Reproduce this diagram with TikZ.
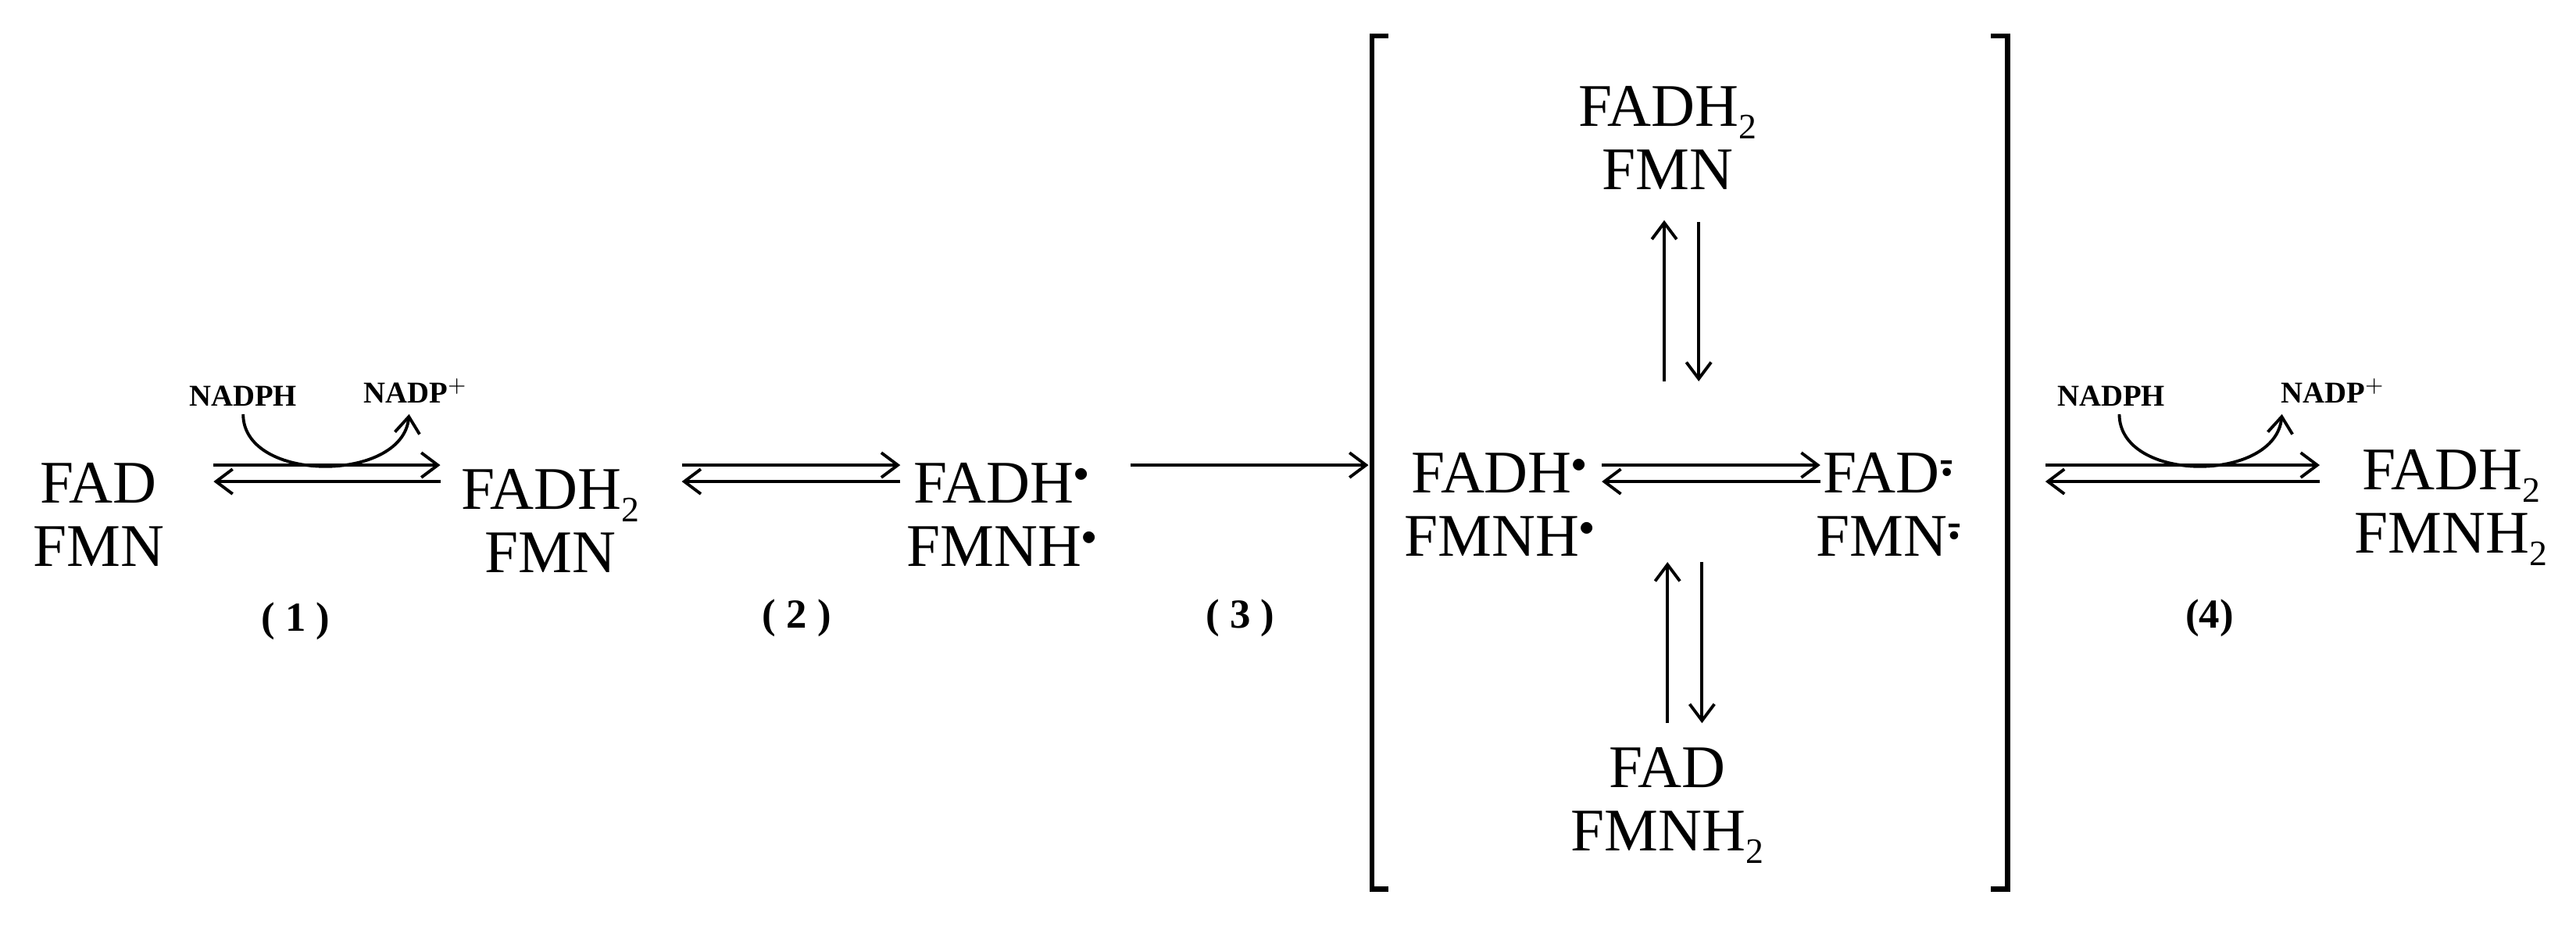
\documentclass[tikz,border=0pt]{standalone}
\usepackage{fontspec}
\setmainfont{Liberation Serif}
\usetikzlibrary{arrows.meta}
\begin{document}
\begin{tikzpicture}[x=0.021cm,y=-0.021cm,
  chem/.style={font=\fontsize{22}{23}\selectfont,align=center,inner sep=0pt},
  cof/.style={font=\fontsize{11}{13}\selectfont\bfseries,inner sep=0pt},
  num/.style={font=\fontsize{15}{18}\selectfont\bfseries,inner sep=0pt},
  rx/.style={line width=1.1pt,-{Straight Barb[length=6pt,width=9pt,line width=1.1pt]}},
  br/.style={line width=1.8pt}]
\useasboundingbox (0,0) rectangle (1568,564);
\newcommand{\rad}{$^{\scriptscriptstyle\bullet}$}
\newcommand{\anion}{\textsuperscript{\shortstack{\fontsize{7}{7}\selectfont$\bullet$\\[-1.3ex]\bfseries-}}}
\newcommand{\two}{\raisebox{-0.45ex}{\fontsize{13}{13}\selectfont 2}}
% nodes
\node[chem] (A) at (60,313) {FAD\\FMN};
\node[chem] (B) at (335,317) {FADH\two\\FMN};
\node[chem] (C) at (610,313) {FADH\rad\\FMNH\rad};
\node[chem] (T) at (1015,84) {FADH\two\\FMN};
\node[chem] (L) at (913,307) {FADH\rad\\FMNH\rad};
\node[chem] (R) at (1150,307) {FAD\anion\\FMN\anion};
\node[chem] (D) at (1015,490) {FAD\\FMNH\two};
\node[chem] (E) at (1492,309) {FADH\two\\FMNH\two};
\node[cof] (n1) at (148,241) {NADPH};
\node[cof] (p1) at (253,238) {NADP$^{+}$};
\node[cof] (n2) at (1285,241) {NADPH};
\node[cof] (p2) at (1420,238) {NADP$^{+}$};
\node[num] at (180,378) {( 1 )};
\node[num] at (485,376) {( 2 )};
\node[num] at (755,376) {( 3 )};
\node[num] at (1345,376) {(4)};
% coordinates
\coordinate (a1) at (130,283); \coordinate (a2) at (268,283);
\coordinate (a3) at (130,293); \coordinate (a4) at (268,293);
\coordinate (b1) at (415,283); \coordinate (b2) at (548,283);
\coordinate (b3) at (415,293); \coordinate (b4) at (548,293);
\coordinate (c1) at (688,283); \coordinate (c2) at (833,283);
\coordinate (m1) at (975,283); \coordinate (m2) at (1108,283);
\coordinate (m3) at (975,293); \coordinate (m4) at (1108,293);
\coordinate (e1) at (1245,283); \coordinate (e2) at (1412,283);
\coordinate (e3) at (1245,293); \coordinate (e4) at (1412,293);
% arrows
\draw[rx] (a1) -- (a2); \draw[rx] (a4) -- (a3);
\draw[rx] (b1) -- (b2); \draw[rx] (b4) -- (b3);
\draw[rx] (c1) -- (c2);
\draw[rx] (m1) -- (m2); \draw[rx] (m4) -- (m3);
\draw[rx] (e1) -- (e2); \draw[rx] (e4) -- (e3);
\draw[rx] (1013,232) -- (1013,134);
\draw[rx] (1034,135) -- (1034,232);
\draw[rx] (1015,440) -- (1015,342);
\draw[rx] (1036,342) -- (1036,440);
\draw[line width=1.1pt,-{Straight Barb[length=6pt,width=9pt,line width=1.1pt]}]
  (148,252) .. controls (148,294) and (245,294) .. (249,252);
\draw[line width=1.1pt,-{Straight Barb[length=6pt,width=9pt,line width=1.1pt]}]
  (1290,252) .. controls (1290,294) and (1385,294) .. (1389,252);
% brackets
\draw[br] (845,22) -- (835,22) -- (835,541) -- (845,541);
\draw[br] (1212,22) -- (1222,22) -- (1222,541) -- (1212,541);
\end{tikzpicture}
\end{document}
